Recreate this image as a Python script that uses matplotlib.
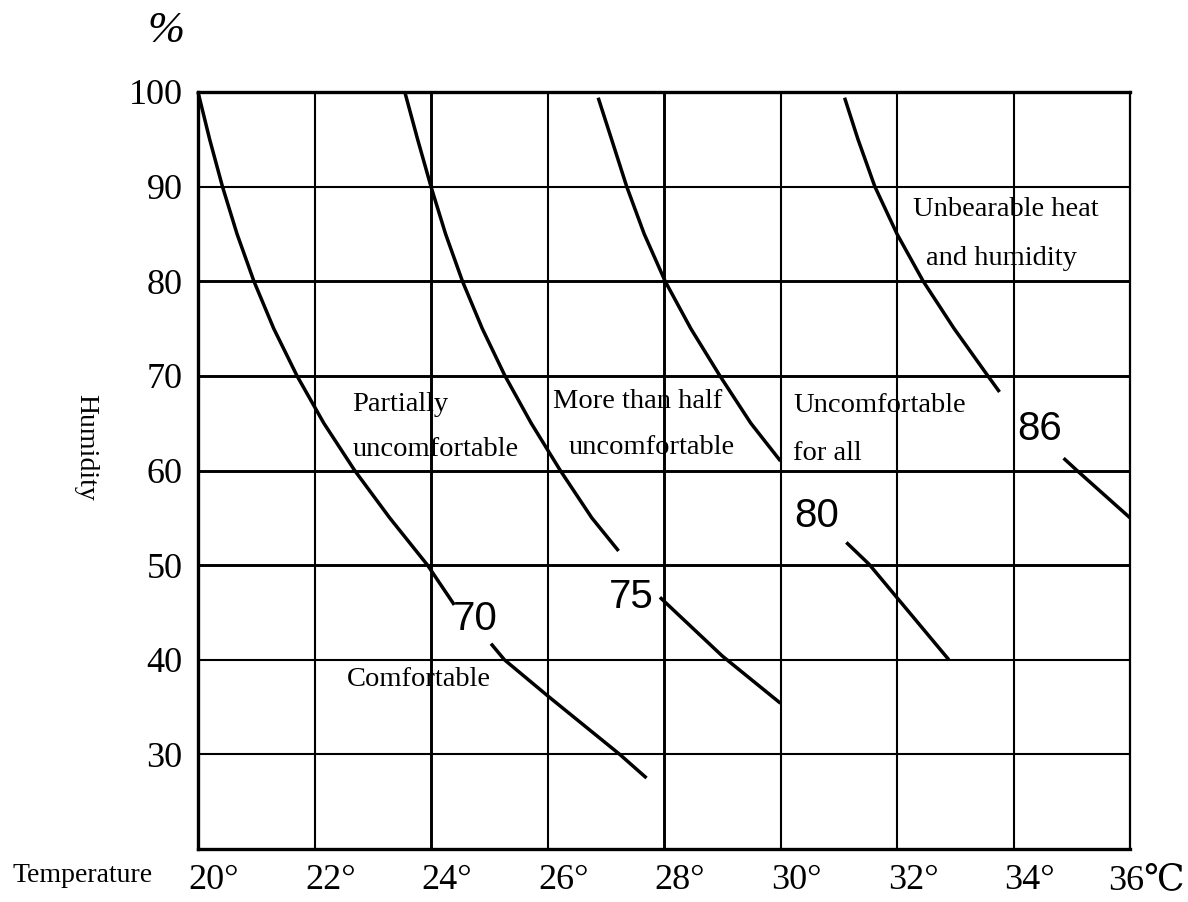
import matplotlib
matplotlib.use("Agg")
import matplotlib.pyplot as plt
from matplotlib import font_manager as fm
from matplotlib.transforms import ScaledTranslation

# ---------------- data ----------------
x_ticks = [20, 22, 24, 26, 28, 30, 32, 34, 36]
x_tick_labels = ["20°", "22°", "24°", "26°", "28°", "30°", "32°", "34°", "36℃"]
y_ticks = [30, 40, 50, 60, 70, 80, 90, 100]
y_tick_labels = ["30", "40", "50", "60", "70", "80", "90", "100"]

# discomfort-index curves (upper part above the label, lower part below it)
c70_upper_t = [20.0, 20.2, 20.42, 20.67, 20.96, 21.30, 21.70, 22.16, 22.69, 23.29, 23.94, 24.40]
c70_upper_h = [100, 95, 90, 85, 80, 75, 70, 65, 60, 55, 50, 45.8]
c70_lower_t = [25.03, 25.26, 26.0, 27.24, 27.7]
c70_lower_h = [41.7, 40.0, 36.2, 30.0, 27.5]

c75_upper_t = [23.55, 23.77, 24.0, 24.25, 24.54, 24.88, 25.27, 25.72, 26.22, 26.76, 27.22]
c75_upper_h = [100, 95, 90, 85, 80, 75, 70, 65, 60, 55, 51.5]
c75_lower_t = [27.93, 29.0, 30.0]
c75_lower_h = [46.6, 40.4, 35.4]

c80_upper_t = [26.87, 27.10, 27.36, 27.66, 28.02, 28.46, 28.96, 29.49, 30.0]
c80_upper_h = [99.4, 95, 90, 85, 80, 75, 70, 65, 61.0]
c80_lower_t = [31.13, 31.52, 32.89]
c80_lower_h = [52.4, 50.1, 40.0]

c86_upper_t = [31.1, 31.33, 31.62, 32.0, 32.45, 32.98, 33.56, 33.76]
c86_upper_h = [99.4, 95, 90, 85, 80, 75, 70, 68.3]
c86_lower_t = [34.86, 35.09, 36.0]
c86_lower_h = [61.3, 60.0, 55.0]

curve_names = ["70", "75", "80", "86"]
curve_label_t = [24.76, 27.44, 30.62, 34.44]
curve_label_h = [44.3, 46.6, 55.2, 64.4]

zone_texts = ["Partially", "uncomfortable", "More than half", "uncomfortable",
              "Uncomfortable", "for all", "Unbearable heat", "and humidity", "Comfortable"]
zone_t = [22.64, 22.65, 26.09, 26.36, 30.22, 30.22, 32.27, 32.5, 22.56]
zone_h = [66.3, 61.5, 66.6, 61.7, 66.2, 61.1, 86.9, 81.7, 37.2]

# ---------------- fonts ----------------
names = {f.name for f in fm.fontManager.ttflist}
serif = ["Liberation Serif", "DejaVu Serif"]
if "Liberation Sans Narrow" in names:
    num_family, num_size = ["Liberation Sans Narrow", "DejaVu Sans"], 32
else:
    num_family, num_size = ["Liberation Sans", "DejaVu Sans"], 29

# ---------------- figure ----------------
W, H = 1188, 902
fig = plt.figure(figsize=(W / 100, H / 100), dpi=100)
fig.patch.set_facecolor("white")
ax = fig.add_axes([198 / W, 1 - 849 / H, (1130 - 198) / W, (849 - 92) / H])
ax.set_xlim(20, 36)
ax.set_ylim(20, 100)

# grid
thick_h = {50, 60, 70, 80}
thick_v = {24, 28}
for y in y_ticks[:-1]:
    ax.axhline(y, color="black", lw=2.1 if y in thick_h else 1.5, zorder=1)
for x in x_ticks[1:-1]:
    ax.axvline(x, color="black", lw=2.1 if x in thick_v else 1.5, zorder=1)

for side in ["left", "bottom", "top"]:
    ax.spines[side].set_linewidth(2.4)
ax.spines["right"].set_linewidth(1.6)

# curves
segments = [
    (c70_upper_t, c70_upper_h), (c70_lower_t, c70_lower_h),
    (c75_upper_t, c75_upper_h), (c75_lower_t, c75_lower_h),
    (c80_upper_t, c80_upper_h), (c80_lower_t, c80_lower_h),
    (c86_upper_t, c86_upper_h), (c86_lower_t, c86_lower_h),
]
for t, h in segments:
    ax.plot(t, h, color="black", lw=2.5, solid_capstyle="butt",
            solid_joinstyle="round", zorder=3, clip_on=False)

for name, t, h in zip(curve_names, curve_label_t, curve_label_h):
    ax.text(t, h, name, family=num_family, fontsize=num_size, ha="center", va="center", zorder=4)

for s, t, h in zip(zone_texts, zone_t, zone_h):
    ax.text(t, h, s, family=serif, fontsize=20.5, ha="left", va="baseline", zorder=4)

# ticks
ax.set_xticks(x_ticks)
ax.set_xticklabels(x_tick_labels, family=serif, fontsize=26)
ax.set_yticks(y_ticks)
ax.set_yticklabels(y_tick_labels, family=serif, fontsize=26)
ax.tick_params(axis="both", length=0)
ax.tick_params(axis="y", pad=11)
ax.tick_params(axis="x", pad=11)
off = ScaledTranslation(16 / 100, 0, fig.dpi_scale_trans)
for lab in ax.get_xticklabels():
    lab.set_transform(lab.get_transform() + off)

# outside labels
fig.text(12 / W, 1 - 882 / H, "Temperature", family=serif, fontsize=20, ha="left", va="baseline")
fig.text(86 / W, 1 - 447 / H, "Humidity", family=serif, fontsize=20, rotation=-90,
         ha="center", va="center")
fig.text(166 / W, 1 - 31 / H, "%", family=serif, fontsize=32, style="italic",
         ha="center", va="center")

fig.savefig("out.png", dpi=100, facecolor="white")
